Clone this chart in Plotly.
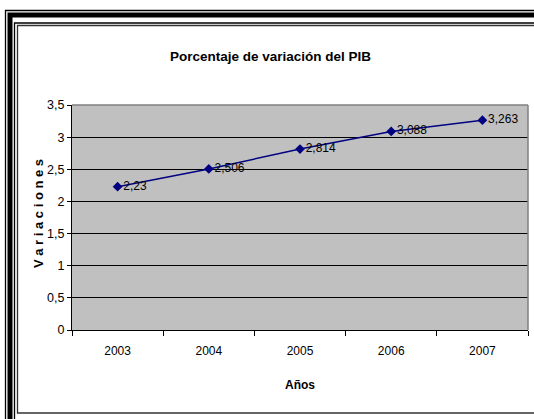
import plotly.graph_objects as go

# Data
years = ["2003", "2004", "2005", "2006", "2007"]
variation = [2.23, 2.506, 2.814, 3.088, 3.263]
y_ticks = [0, 0.5, 1, 1.5, 2, 2.5, 3, 3.5]

W, H = 534, 419
ML, MR, MT, MB = 72, 6, 105, 89
PW, PH = W - ML - MR, H - MT - MB

FONT = "Liberation Sans Narrow, Arial Narrow, Liberation Sans, Arial, sans-serif"


def px(x):
    return (x - ML) / PW


def py(y):
    return (H - MB - y) / PH


labels = [f"{v:g}".replace(".", ",") for v in variation]

fig = go.Figure()
fig.add_trace(go.Scatter(
    x=years, y=variation,
    mode="lines+markers+text",
    line=dict(color="#000080", width=1.5),
    marker=dict(symbol="diamond", size=7.5, color="#000080"),
    text=labels, textposition="middle right",
    textfont=dict(family=FONT, size=12, color="#000000"),
    cliponaxis=False,
    hoverinfo="skip",
))

# Decorative outer frame and chart-area border (pixel positions mapped to paper)
shapes = []


def rect(x0, y0, x1, y1, color, width):
    shapes.append(dict(type="rect", xref="paper", yref="paper",
                       x0=px(x0), x1=px(x1), y0=py(y1), y1=py(y0),
                       line=dict(color=color, width=width), fillcolor="rgba(0,0,0,0)",
                       layer="above"))


rect(5.5, 10.5, 560, 460, "#000000", 1.3)
rect(10, 15, 560, 460, "#000000", 5)
rect(14.5, 23, 560, 460, "#000000", 1.3)
rect(17.5, 25.5, 560, 413, "#333333", 1.3)

# Plot-area border: grey top/right
shapes.append(dict(type="line", xref="paper", yref="paper", x0=0, x1=1, y0=1, y1=1,
                   line=dict(color="#808080", width=1.5)))
shapes.append(dict(type="line", xref="paper", yref="paper", x0=1, x1=1, y0=0, y1=1,
                   line=dict(color="#808080", width=1.5)))

fig.update_layout(
    width=W, height=H,
    margin=dict(l=ML, r=MR, t=MT, b=MB),
    paper_bgcolor="#FFFFFF",
    plot_bgcolor="#C0C0C0",
    separators=",.",
    showlegend=False,
    shapes=shapes,
    font=dict(family=FONT, size=12, color="#000000"),
    annotations=[
        dict(text="<b>Porcentaje de variación del PIB</b>", xref="paper", yref="paper",
             x=px(270), y=py(57), xanchor="center", yanchor="middle", showarrow=False,
             font=dict(family=FONT, size=13.5, color="#000000")),
        dict(text="<b>Años</b>", xref="paper", yref="paper",
             x=px(300), y=py(385), xanchor="center", yanchor="middle", showarrow=False,
             font=dict(family=FONT, size=12, color="#000000")),
        dict(text="<b>V a r i a c i o n e s</b>", xref="paper", yref="paper",
             x=px(38), y=py(214), xanchor="center", yanchor="middle", showarrow=False,
             textangle=-90,
             font=dict(family=FONT, size=13, color="#000000")),
    ],
)

fig.update_xaxes(
    type="category", range=[-0.5, 4.5],
    tickson="boundaries", ticks="outside", ticklen=5, tickcolor="#000000",
    showline=True, linecolor="#000000", linewidth=1,
    showgrid=False, zeroline=False,
    tickfont=dict(family=FONT, size=12), ticklabelstandoff=10,
)
fig.update_yaxes(
    range=[0, 3.5], tickvals=y_ticks,
    ticktext=[f"{t:g}".replace(".", ",") for t in y_ticks],
    ticks="outside", ticklen=4, tickcolor="#000000",
    showline=True, linecolor="#000000", linewidth=1,
    showgrid=True, gridcolor="#000000", gridwidth=1,
    zeroline=False,
    tickfont=dict(family=FONT, size=12.5),
)

fig.write_html("out.html")
